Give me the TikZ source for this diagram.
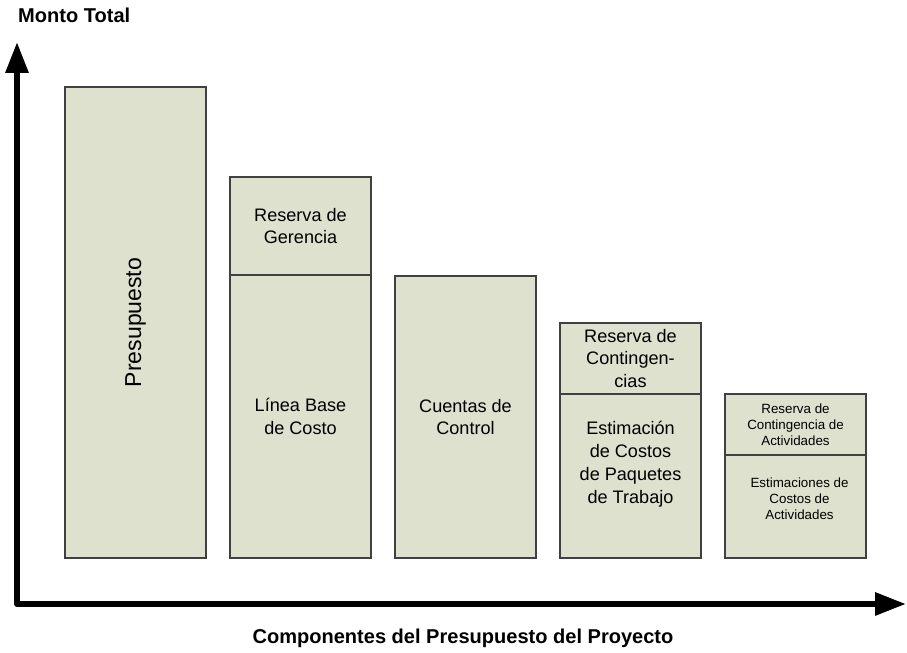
\documentclass[tikz,border=0pt]{standalone}
\usepackage{fontspec}
\setmainfont{Liberation Sans}
\usetikzlibrary{arrows.meta,positioning}
\definecolor{cajaverde}{RGB}{221,225,206}
\definecolor{bordegris}{RGB}{64,64,64}

\begin{document}
\begin{tikzpicture}[
    font=\fontsize{10.3}{13}\selectfont,
    caja/.style={draw=bordegris, fill=cajaverde, line width=0.7pt, minimum width=2.82cm, inner sep=0pt, outer sep=0pt, align=center, anchor=north west},
    chico/.style={font=\fontsize{7.6}{9}\selectfont, align=center},
    titulo/.style={font=\fontsize{11.4}{13}\selectfont\bfseries},
    ejes/.style={line width=3.4pt, line join=round, {Triangle[length=0.62cm, width=0.44cm]}-{Triangle[length=0.62cm, width=0.44cm]}}
]
    \useasboundingbox (0,0) rectangle (18.14,13.06);

    % Ejes
    \coordinate (ytope) at (0.34,12.22);
    \coordinate (origen) at (0.34,0.98);
    \coordinate (xfin) at (18.12,0.98);
    \draw[ejes] (ytope) -- (origen) -- (xfin);

    \node[titulo, anchor=west] (monto) at (0.24,12.76) {Monto Total};
    \node[titulo] (componentes) at (9.26,0.3) {Componentes del Presupuesto del Proyecto};

    % Columna 1 : Presupuesto
    \node[caja, minimum height=9.42cm] (pres) at (1.3,11.32) {};
    \node[rotate=90, font=\fontsize{13.1}{15}\selectfont] (prestxt) at (pres.center) {Presupuesto};

    % Columna 2 : Linea base
    \node[caja, minimum height=1.96cm] (rgerencia) at (4.6,9.52) {Reserva de\\Gerencia};
    \node[caja, minimum height=5.66cm, below=0pt of rgerencia] (lbase) {Línea Base\\de Costo};

    % Columna 3 : Cuentas de control
    \node[caja, minimum height=5.64cm] (cuentas) at (7.9,7.54) {Cuentas de\\Control};

    % Columna 4 : Paquetes de trabajo
    \node[caja, minimum height=1.42cm] (rconting) at (11.2,6.6) {Reserva de\\Contingen-\\cias};
    \node[caja, minimum height=3.28cm, below=0pt of rconting] (paquetes) {};
    \node[align=center] (paqtxt) at ([yshift=0.24cm]paquetes.center) {Estimación\\de Costos\\de Paquetes\\de Trabajo};

    % Columna 5 : Actividades
    \node[caja, chico, minimum height=1.22cm] (ractiv) at (14.5,5.18) {Reserva de\\Contingencia de\\Actividades};
    \node[caja, minimum height=2.06cm, below=0pt of ractiv] (activ) {};
    \node[chico] (activtxt) at ([xshift=0.08cm, yshift=0.15cm]activ.center) {Estimaciones de\\Costos de\\Actividades};

\end{tikzpicture}
\end{document}
